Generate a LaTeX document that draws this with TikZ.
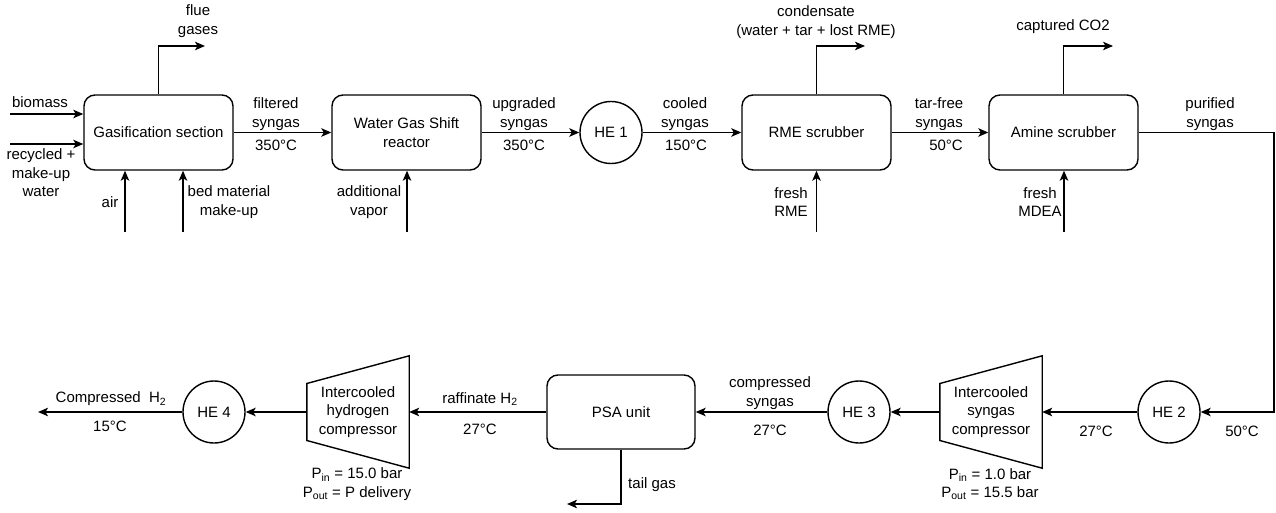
\documentclass[tikz,border=0pt]{standalone}
\usepackage{fontspec}
\setmainfont{Liberation Sans}
\usetikzlibrary{arrows.meta, calc}

\begin{document}
\begin{tikzpicture}[
    x=1pt, y=-1pt,
    font=\fontsize{15}{18.5}\selectfont,
    unit/.style={rectangle, rounded corners=11pt, draw=black, line width=1.4pt, minimum width=149pt, minimum height=75pt, align=center},
    hx/.style={circle, draw=black, line width=1.4pt, minimum size=62pt, inner sep=0pt},
    comp/.style={minimum width=102pt, minimum height=112pt, inner sep=0pt, align=center},
    flow/.style={-{Stealth[length=10pt, width=8.5pt, inset=2.5pt]}, line width=1.4pt},
    lbl/.style={align=center, inner sep=0pt}
]

\useasboundingbox (0,0) rectangle (1276,513);

% ===== TOP ROW =====
\node[unit] (gas) at (158.5,132.5) {Gasification section};
\node[unit] (wgs) at (406.5,132.5) {Water Gas Shift\\reactor};
\node[hx] (he1) at (611,132.5) {HE 1};
\node[unit] (rme) at (816.5,132.5) {RME scrubber};
\node[unit] (amine) at (1063.5,132.5) {Amine scrubber};

% free ends of the streams
\coordinate (bio_in) at (10,114);
\coordinate (water_in) at (10,144);
\coordinate (air_in) at (125,232);
\coordinate (bed_in) at (183,232);
\coordinate (vapor_in) at (407,232);
\coordinate (rme_in) at (816.5,232);
\coordinate (mdea_in) at (1064,232);
\coordinate (flue_out) at (205,46);
\coordinate (cond_out) at (865,46);
\coordinate (co2_out) at (1113,46);
\coordinate (bend) at (1274,412);

% main syngas line
\draw[flow] (gas) -- (wgs);
\draw[flow] (wgs) -- (he1);
\draw[flow] (he1) -- (rme);
\draw[flow] (rme) -- (amine);

% feeds
\foreach \c in {bio_in, water_in}
    \draw[flow] (\c) -- (\c -| gas.west);
\foreach \c/\n in {air_in/gas, bed_in/gas, vapor_in/wgs, rme_in/rme, mdea_in/amine}
    \draw[flow] (\c) -- (\c |- \n.south);

% outlets
\foreach \n/\c in {gas/flue_out, rme/cond_out, amine/co2_out}
    \draw[flow] (\n.north) |- (\c);

% stream labels
\node[lbl] (l_bio) at (40,102) {biomass};
\node[lbl] (l_water) at (41,173) {recycled +\\make-up\\water};
\node[lbl] (l_air) at (110,202) {air};
\node[lbl] (l_bed) at (229,202) {bed material\\make-up};
\node[lbl] (l_flue) at (198,21) {flue\\gases};
\node[lbl] (l_filt) at (276,114) {filtered\\syngas};
\node[lbl] (l_filtT) at (276,145) {350°C};
\node[lbl] (l_vap) at (369,202) {additional\\vapor};
\node[lbl] (l_upg) at (524,114) {upgraded\\syngas};
\node[lbl] (l_upgT) at (524,145) {350°C};
\node[lbl] (l_cool) at (685,114) {cooled\\syngas};
\node[lbl] (l_coolT) at (686,145) {150°C};
\node[lbl] (l_cond) at (816,22) {condensate\\(water + tar + lost RME)};
\node[lbl] (l_rme) at (791,202) {fresh\\RME};
\node[lbl] (l_tar) at (939,114) {tar-free\\syngas};
\node[lbl] (l_tarT) at (946,145) {50°C};
\node[lbl] (l_co2) at (1063,27) {captured CO2};
\node[lbl] (l_mdea) at (1040,202) {fresh\\MDEA};
\node[lbl] (l_pur) at (1210,114) {purified\\syngas};

% ===== BOTTOM ROW =====
\node[hx] (he2) at (1169,412) {HE 2};
\node[comp] (syncomp) at (991,412) {Intercooled\\syngas\\compressor};
\node[hx] (he3) at (859,412) {HE 3};
\node[unit, minimum width=148pt, minimum height=74pt] (psa) at (621,412) {PSA unit};
\node[comp] (h2comp) at (358,412) {Intercooled\\hydrogen\\compressor};
\node[hx] (he4) at (214,412) {HE 4};
\coordinate (h2_out) at (38,412);
\coordinate (tail_out) at (567,504);

% compressor outlines
\foreach \n in {syncomp, h2comp}
    \draw[line width=1.4pt] ($(\n.west)+(0,-28.5)$) -- (\n.north east) -- (\n.south east) -- ($(\n.west)+(0,28.5)$) -- cycle;

% hydrogen line
\draw[flow] (amine.east) -| (bend) -- (he2.east);
\draw[flow] (he2) -- (syncomp.east);
\draw[flow] (syncomp.west) -- (he3);
\draw[flow] (he3) -- (psa);
\draw[flow] (psa) -- (h2comp.east);
\draw[flow] (h2comp.west) -- (he4);
\draw[flow] (he4) -- (h2_out);
\draw[flow] (psa.south) |- (tail_out);

% stream labels
\node[lbl] (l_purT) at (1242,431) {50°C};
\node[lbl] (l_he2T) at (1096,431) {27°C};
\node[lbl] (l_synP) at (990,484) {P\textsubscript{in} = 1.0 bar\\P\textsubscript{out} = 15.5 bar};
\node[lbl] (l_comp) at (770,393) {compressed\\syngas};
\node[lbl] (l_compT) at (770,430) {27°C};
\node[lbl] (l_tail) at (652,485) {tail gas};
\node[lbl] (l_raf) at (480,399) {raffinate H\textsubscript{2}};
\node[lbl] (l_rafT) at (480,429) {27°C};
\node[lbl] (l_h2P) at (357,484) {P\textsubscript{in} = 15.0 bar\\P\textsubscript{out} = P delivery};
\node[lbl] (l_h2) at (111,399) {Compressed\ \ H\textsubscript{2}};
\node[lbl] (l_h2T) at (110,426) {15°C};

\end{tikzpicture}
\end{document}
